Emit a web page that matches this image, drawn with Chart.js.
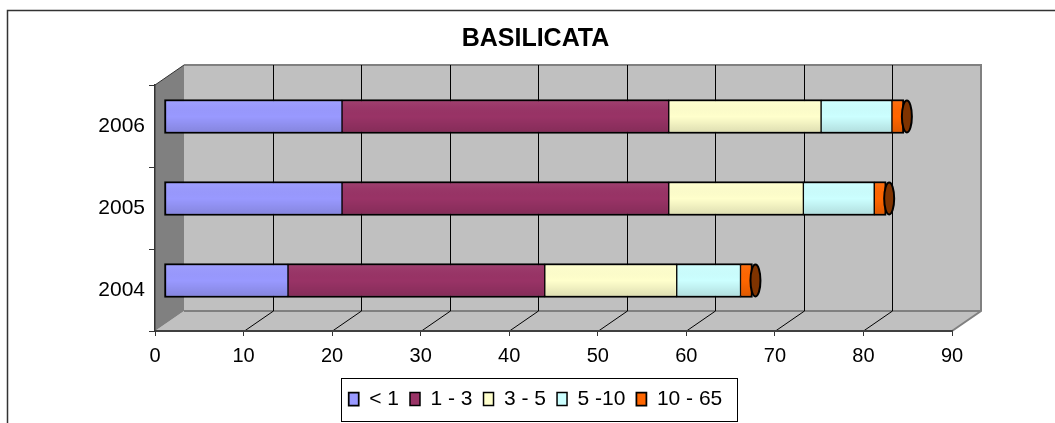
<!DOCTYPE html>
<html><head><meta charset="utf-8">
<script src="https://cdn.jsdelivr.net/npm/chart.js@4.4.1/dist/chart.umd.min.js"></script>
<style>html,body{margin:0;padding:0;background:#fff;overflow:hidden}</style>
</head><body>
<canvas id="c" width="1055" height="423"></canvas>
<script>
// ---- data ----
const categories = ['2006', '2005', '2004'];
const seriesNames = ['< 1', '1 - 3', '3 - 5', '5 -10', '10 - 65'];
const lessThan1  = [20.1, 20.1, 14.0];
const from1to3   = [36.9, 36.9, 29.0];
const from3to5   = [17.2, 15.2, 14.9];
const from5to10  = [8.0, 8.0, 7.2];
const from10to65 = [1.35, 1.35, 1.35];
const xTickValues = [0, 10, 20, 30, 40, 50, 60, 70, 80, 90];
const titleText = 'BASILICATA';

// ---- styles ----
const seriesColors = ['#9999FF', '#993366', '#FFFFCC', '#CCFFFF', '#FF6600'];
const DEPTH_X = 29, DEPTH_Y = -20;   // 3D wall depth
const BAR_DX = 9, BAR_DY = -9.5;     // bars sit slightly inside the depth

Chart.defaults.font.family = '"Liberation Sans", Arial, sans-serif';
Chart.defaults.color = '#000';

const seriesData = [lessThan1, from1to3, from3to5, from5to10, from10to65];
const last = seriesData.length - 1;
const datasets = seriesData.map((d, i) => ({
  label: seriesNames[i],
  data: d,
  backgroundColor: seriesColors[i],
  borderColor: '#000',
  borderWidth: {top: 2, bottom: 2, left: i === 0 ? 2 : 1, right: i === last ? 2 : 1},
  borderSkipped: false,
  barThickness: 34,
  clip: false
}));

const walls = {
  id: 'walls',
  beforeDraw(chart) {
    const ctx = chart.ctx, xs = chart.scales.x, a = chart.chartArea;
    ctx.save();
    ctx.fillStyle = '#fff';
    ctx.fillRect(0, 0, chart.width, chart.height);
    // outer frame
    ctx.strokeStyle = '#333';
    ctx.lineWidth = 1.5;
    ctx.beginPath();
    ctx.moveTo(7.5, chart.height);
    ctx.lineTo(7.5, 10.5);
    ctx.lineTo(chart.width, 10.5);
    ctx.stroke();

    const L = xs.getPixelForValue(xTickValues[0]);
    const R = xs.getPixelForValue(xTickValues[xTickValues.length - 1]);
    const T = a.top, B = a.bottom;
    // back wall
    ctx.fillStyle = '#C0C0C0';
    ctx.fillRect(L + DEPTH_X, T + DEPTH_Y, R - L, B - T);
    // floor
    ctx.beginPath();
    ctx.moveTo(L, B); ctx.lineTo(L + DEPTH_X, B + DEPTH_Y);
    ctx.lineTo(R + DEPTH_X, B + DEPTH_Y); ctx.lineTo(R, B); ctx.closePath();
    ctx.fill();
    // side wall
    ctx.fillStyle = '#808080';
    ctx.beginPath();
    ctx.moveTo(L, T); ctx.lineTo(L + DEPTH_X, T + DEPTH_Y);
    ctx.lineTo(L + DEPTH_X, B + DEPTH_Y); ctx.lineTo(L, B); ctx.closePath();
    ctx.fill();
    // wall outlines
    ctx.strokeStyle = '#808080';
    ctx.lineWidth = 2;
    ctx.beginPath();
    ctx.moveTo(L + DEPTH_X, T + DEPTH_Y); ctx.lineTo(R + DEPTH_X, T + DEPTH_Y);
    ctx.lineTo(R + DEPTH_X, B + DEPTH_Y); ctx.lineTo(R, B);
    ctx.moveTo(L + DEPTH_X, B + DEPTH_Y); ctx.lineTo(R + DEPTH_X, B + DEPTH_Y);
    ctx.stroke();
    ctx.strokeStyle = '#333';
    ctx.lineWidth = 1;
    ctx.beginPath();
    ctx.moveTo(L, T); ctx.lineTo(L + DEPTH_X, T + DEPTH_Y);
    ctx.stroke();
    // gridlines on back wall and floor
    ctx.strokeStyle = '#000';
    ctx.lineWidth = 1;
    ctx.beginPath();
    xTickValues.slice(1, -1).forEach(v => {
      const px = Math.round(xs.getPixelForValue(v)) + 0.5;
      ctx.moveTo(px + DEPTH_X, T + DEPTH_Y);
      ctx.lineTo(px + DEPTH_X, B + DEPTH_Y);
      ctx.moveTo(px + DEPTH_X, B + DEPTH_Y);
      ctx.lineTo(px, B);
    });
    ctx.stroke();
    ctx.restore();
  }
};

const barDepth = {
  id: 'barDepth',
  beforeDatasetsDraw(chart) {
    chart.ctx.save();
    chart.ctx.translate(BAR_DX, BAR_DY);
  },
  afterDatasetsDraw(chart) {
    const ctx = chart.ctx;
    // cylinder-like shading
    chart.data.datasets.forEach((ds, i) => {
      chart.getDatasetMeta(i).data.forEach(el => {
        const p = el.getProps(['x', 'y', 'base', 'height'], true);
        const l = Math.min(p.x, p.base) + 1, r = Math.max(p.x, p.base) - 1;
        const t = p.y - p.height / 2 + 2, b = p.y + p.height / 2 - 2;
        const g = ctx.createLinearGradient(0, t, 0, b);
        g.addColorStop(0, 'rgba(255,255,255,0.06)');
        g.addColorStop(0.5, 'rgba(0,0,0,0.0)');
        g.addColorStop(1, 'rgba(0,0,0,0.12)');
        ctx.fillStyle = g;
        ctx.fillRect(l, t, r - l, b - t);
      });
    });
    // end caps
    chart.getDatasetMeta(last).data.forEach(el => {
      const p = el.getProps(['x', 'y', 'height'], true);
      ctx.beginPath();
      ctx.ellipse(p.x + 3, p.y, 5, p.height / 2 - 1, 0, 0, Math.PI * 2);
      ctx.fillStyle = '#7F3300';
      ctx.fill();
      ctx.strokeStyle = '#000';
      ctx.lineWidth = 2;
      ctx.stroke();
    });
    ctx.restore();
  }
};

const legendFrame = {
  id: 'legendFrame',
  afterDraw(chart) {
    const lg = chart.legend;
    if (!lg || !lg.legendHitBoxes || !lg.legendHitBoxes.length) return;
    const hb = lg.legendHitBoxes;
    const l = hb[0].left - 8;
    const lastHb = hb[hb.length - 1];
    const r = lastHb.left + lastHb.width + 14;
    const ctx = chart.ctx;
    ctx.save();
    ctx.strokeStyle = '#000';
    ctx.lineWidth = 1;
    ctx.strokeRect(Math.round(l) + 0.5, Math.round(lg.top) + 0.5, Math.round(r - l), Math.round(lg.bottom - lg.top) + 1);
    ctx.restore();
  }
};

new Chart(document.getElementById('c'), {
  type: 'bar',
  data: {labels: categories, datasets},
  options: {
    indexAxis: 'y',
    responsive: false,
    animation: false,
    devicePixelRatio: 1,
    layout: {padding: {left: 16, right: 0, top: 0, bottom: 3.5}},
    plugins: {
      title: {
        display: true, text: titleText, color: '#000',
        font: {size: 25, weight: 'bold'},
        padding: {top: 24, bottom: 31}
      },
      legend: {
        position: 'bottom',
        labels: {
          font: {size: 21}, color: '#000',
          boxWidth: 10, boxHeight: 13, padding: 11
        }
      },
      tooltip: {enabled: false}
    },
    scales: {
      x: {
        type: 'linear', stacked: true, min: 0, max: 90,
        afterBuildTicks: s => { s.ticks = xTickValues.map(v => ({value: v})); },
        ticks: {font: {size: 20}, color: '#000', padding: 8, maxRotation: 0},
        grid: {display: true, drawOnChartArea: false, drawTicks: true, tickLength: 5, color: '#333', lineWidth: 1},
        border: {display: true, color: '#404040', width: 2},
        afterFit: s => { s.height = 46.5; }
      },
      y: {
        type: 'category', stacked: true, position: 'left',
        ticks: {font: {size: 21}, color: '#000', padding: 4},
        grid: {display: true, drawOnChartArea: false, drawTicks: true, tickLength: 6, color: '#333', offset: true},
        border: {display: true, color: '#333', width: 1.5},
        afterFit: s => { s.width = 139; }
      },
      yPad: {
        type: 'linear', position: 'right', display: true,
        ticks: {display: false}, grid: {display: false}, border: {display: false},
        afterFit: s => { s.width = 103; }
      }
    }
  },
  plugins: [walls, barDepth, legendFrame]
});
</script>
</body></html>
